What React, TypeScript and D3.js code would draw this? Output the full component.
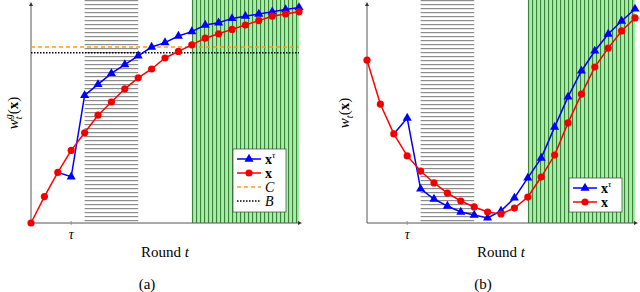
import React from 'react';
import * as d3 from 'd3';

// rounds t = 0..20, tau marks the attack round
const rounds = [0, 1, 2, 3, 4, 5, 6, 7, 8, 9, 10, 11, 12, 13, 14, 15, 16, 17, 18, 19, 20];
const tau = 3;
const grayBand = [4, 8];
const greenBand = [12, 20];

// panel (a): w_t^g(x)
const redA = [0, 12, 23, 33, 41, 49, 55, 61, 66, 70, 75, 78, 81, 84, 86, 88, 90, 92, 94, 95, 96];
const blueA = [23, 21, 58, 63, 68, 72, 76, 80, 82, 85, 87, 90, 91, 93, 94, 95, 96, 97, 98]; // from t = 2
const levelC = 80;
const levelB = 77.4;

// panel (b): w_t(x)
const redB = [74, 54, 40.5, 30.5, 23.6, 18.2, 13.6, 10, 7.3, 5, 4.1, 6.8, 11.8, 20.9, 30.9, 45.5, 58.6, 70.9, 79.5, 87.3, 93.2];
const blueB = [40.5, 47.7, 15.5, 10.9, 7.7, 5, 3.6, 2.3, 5.5, 11.4, 20.5, 29.5, 43.6, 57.3, 69.1, 78.2, 85.9, 91.8, 97.3]; // from t = 2

const blueStart = 2;
const serif = '"Liberation Serif", "DejaVu Serif", serif';

const Panel = ({ id, dx, red, blue, showLevels, yLabel, labelX, caption }) => {
  const x = d3.scaleLinear().domain([0, 20]).range([31, 299]);
  const y = d3.scaleLinear().domain([0, 100]).range([223, 3]);
  const x0 = x(0), y0 = y(0);

  const blueRounds = rounds.slice(blueStart);
  const redLine = d3.line().x((d, i) => x(rounds[i])).y(d => y(d));
  const blueLine = d3.line().x((d, i) => x(blueRounds[i])).y(d => y(d));
  const tri = d3.symbol(d3.symbolTriangle, 36)();

  const legendItems = [
    { key: 'blue', label: 'xτ' },
    { key: 'red', label: 'x' },
  ];
  if (showLevels) {
    legendItems.push({ key: 'C', label: 'C' }, { key: 'B', label: 'B' });
  }
  const lgX = 233, lgY = showLevels ? 149 : 178;
  const lgH = showLevels ? 63 : 34;

  const legendSample = (key, cy) => {
    const lx0 = lgX + 4, lx1 = lgX + 28, mx = (lx0 + lx1) / 2;
    if (key === 'blue') return (
      <g>
        <line x1={lx0} x2={lx1} y1={cy} y2={cy} stroke="#0000ff" strokeWidth={1.5} />
        <path d={tri} transform={`translate(${mx},${cy})`} fill="#0000ff" />
      </g>
    );
    if (key === 'red') return (
      <g>
        <line x1={lx0} x2={lx1} y1={cy} y2={cy} stroke="#ff0000" strokeWidth={1.5} />
        <circle cx={mx} cy={cy} r={3.6} fill="#ff0000" />
        <circle cx={mx} cy={cy} r={2.1} fill="none" stroke="#c00000" strokeWidth={0.6} />
      </g>
    );
    if (key === 'C') return <line x1={lx0} x2={lx1} y1={cy} y2={cy} stroke="#ff9a1a" strokeWidth={1.5} strokeDasharray="4 3" />;
    return <line x1={lx0} x2={lx1} y1={cy} y2={cy} stroke="#000" strokeWidth={1.5} strokeDasharray="1.5 1.5" />;
  };

  return (
    <g transform={`translate(${dx},0)`}>
      <defs>
        <pattern id={`gray-${id}`} patternUnits="userSpaceOnUse" width={4} height={4}>
          <rect width={4} height={4} fill="#fff" />
          <rect y={0} width={4} height={1.2} fill="#8c8c8c" />
        </pattern>
        <pattern id={`green-${id}`} patternUnits="userSpaceOnUse" width={4} height={4}>
          <rect width={4} height={4} fill="#a2f2a2" />
          <rect x={0} width={1.1} height={4} fill="#3f7f3f" />
        </pattern>
      </defs>

      <rect x={x(grayBand[0])} y={0} width={x(grayBand[1]) - x(grayBand[0])} height={y0} fill={`url(#gray-${id})`} />
      <rect x={x(greenBand[0])} y={0} width={x(greenBand[1]) - x(greenBand[0])} height={y0} fill={`url(#green-${id})`} />

      {/* axes */}
      <line x1={x0} x2={x0} y1={y0} y2={5} stroke="#555" strokeWidth={1} />
      <path d={`M${x0},2 L${x0 - 2},6 L${x0 + 2},6 Z`} fill="#333" />
      <line x1={x0} x2={299} y1={y0} y2={y0} stroke="#555" strokeWidth={1} />
      <path d={`M302,${y0} L298,${y0 - 2} L298,${y0 + 2} Z`} fill="#333" />
      <line x1={x(tau)} x2={x(tau)} y1={y0 - 2} y2={y0 + 2} stroke="#888" strokeWidth={0.8} />
      <text x={x(tau)} y={239} textAnchor="middle" fontFamily={serif} fontStyle="italic" fontSize={14}>τ</text>

      {showLevels && (
        <g>
          <line x1={x0} x2={x(20)} y1={y(levelC)} y2={y(levelC)} stroke="#ff9a1a" strokeWidth={1.5} strokeDasharray="4 3" />
          <line x1={x0} x2={x(20)} y1={y(levelB)} y2={y(levelB)} stroke="#000" strokeWidth={1.5} strokeDasharray="1.5 1.5" />
        </g>
      )}

      <path d={blueLine(blue)} fill="none" stroke="#0000ff" strokeWidth={1.5} />
      {blue.map((v, i) => i === 0 ? null : (
        <path key={i} d={tri} transform={`translate(${x(blueRounds[i])},${y(v)})`} fill="#0000ff" />
      ))}
      <path d={redLine(red)} fill="none" stroke="#ff0000" strokeWidth={1.5} />
      {red.map((v, i) => (
        <g key={i}>
          <circle cx={x(rounds[i])} cy={y(v)} r={3.6} fill="#ff0000" />
          <circle cx={x(rounds[i])} cy={y(v)} r={2.1} fill="none" stroke="#c00000" strokeWidth={0.6} />
        </g>
      ))}

      {/* legend */}
      <rect x={lgX} y={lgY} width={53} height={lgH} fill="#fff" stroke="#444" strokeWidth={0.7} />
      {legendItems.map((it, i) => {
        const cy = lgY + 10 + i * 14;
        return (
          <g key={it.key}>
            {legendSample(it.key, cy)}
            <text x={lgX + 32} y={cy + 4.5} fontFamily={serif} fontSize={14}>
              {it.key === 'blue' && <><tspan fontWeight="bold">x</tspan><tspan fontStyle="italic" fontSize={9} dy={-6}>τ</tspan></>}
              {it.key === 'red' && <tspan fontWeight="bold">x</tspan>}
              {(it.key === 'C' || it.key === 'B') && <tspan fontStyle="italic">{it.label}</tspan>}
            </text>
          </g>
        );
      })}

      {/* y label */}
      <text transform={`translate(${labelX},113) rotate(-90)`} textAnchor="middle" fontFamily={serif} fontSize={15}>
        <tspan fontStyle="italic">w</tspan>
        <tspan fontStyle="italic" fontSize={10} dy={4}>t</tspan>
        {yLabel === 'g' && <tspan fontStyle="italic" fontSize={10} dx={-3} dy={-10}>g</tspan>}
        <tspan dy={yLabel === 'g' ? 6 : -4}>(</tspan>
        <tspan fontWeight="bold">x</tspan>
        <tspan>)</tspan>
      </text>

      <text x={x0 + 134} y={257} textAnchor="middle" fontFamily={serif} fontSize={15}>
        Round <tspan fontStyle="italic">t</tspan>
      </text>
      <text x={x0 + 116} y={289} textAnchor="middle" fontFamily={serif} fontSize={15}>{caption}</text>
    </g>
  );
};

export default function App() {
  return (
    <svg width={640} height={292} style={{ display: 'block', position: 'absolute', left: 0, top: 0 }}>
      <rect width={640} height={292} fill="#fff" />
      <Panel id="a" dx={0} red={redA} blue={blueA} showLevels yLabel="g" labelX={18} caption="(a)" />
      <Panel id="b" dx={336} red={redB} blue={blueB} showLevels={false} yLabel="" labelX={13} caption="(b)" />
    </svg>
  );
}
